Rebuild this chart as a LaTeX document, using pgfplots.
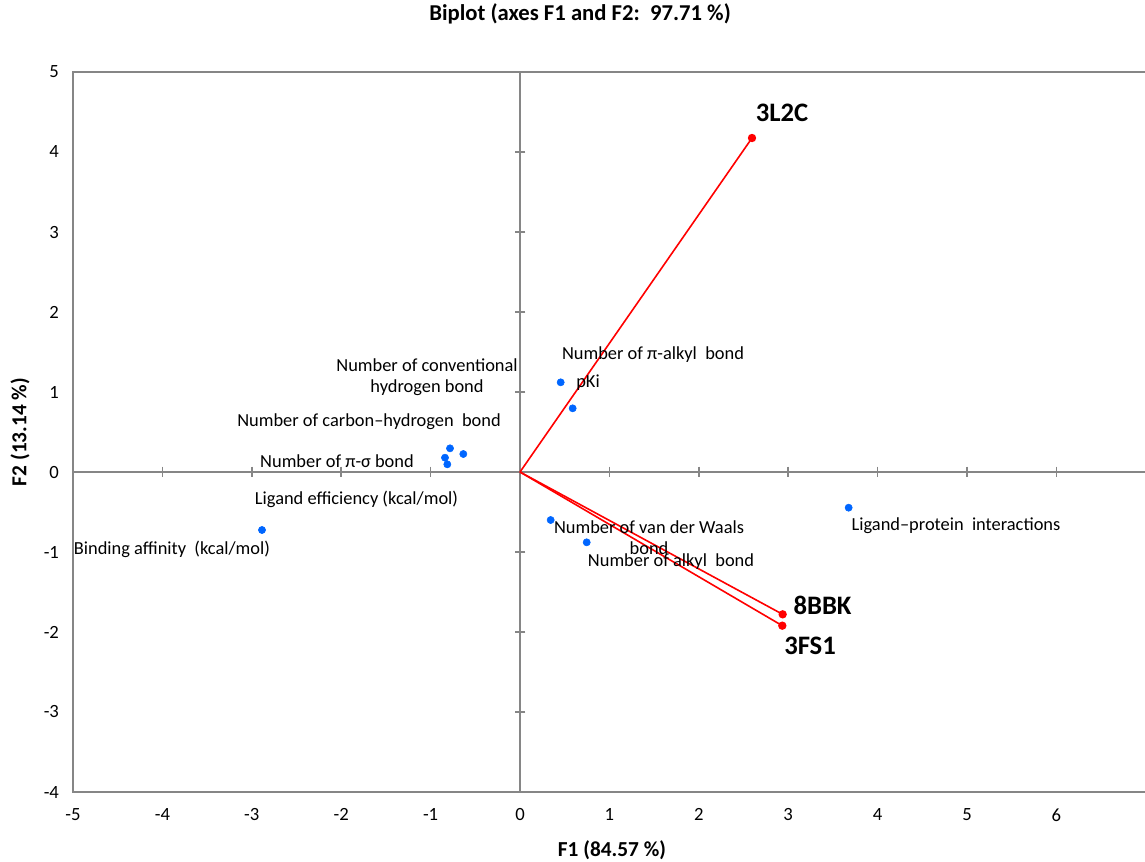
\documentclass[border=0pt]{standalone}
\usepackage{fontspec}
\setmainfont{Carlito}
\usepackage{pgfplots}
\pgfplotsset{compat=1.18}
\definecolor{axgray}{RGB}{134,134,134}
\definecolor{ptblue}{RGB}{0,102,255}
\begin{document}
\begin{tikzpicture}[
  lbl/.style={inner sep=0pt, font=\fontsize{13.8}{15.8}\selectfont},
  obs/.style={inner sep=0pt, font=\fontsize{20}{22}\selectfont\bfseries}]
\useasboundingbox (-54.75pt,-51.75pt) rectangle (804pt,594pt);
\begin{axis}[
  at={(0,0)}, anchor=south west,
  scale only axis,
  width=804.6pt, height=540pt,
  xmin=-5, xmax=7, ymin=-4, ymax=5,
  xtick={-5,-4,...,6}, ytick={-4,-3,...,5},
  major tick length=0pt,
  axis line style={draw=none},
  clip=false,
  /pgf/number format/assume math mode=true,
  tick label style={font=\fontsize{14}{16}\selectfont},
  xticklabel style={yshift=-9pt},
  yticklabel style={xshift=-7pt},
  title={Biplot (axes F1 and F2:\ \ 97.71 \%)},
  title style={font=\fontsize{17}{19}\selectfont\bfseries, at={(0.4726,1.0694)}, anchor=center},
  xlabel={F1 (84.57 \%)},
  xlabel style={font=\fontsize{16}{18}\selectfont\bfseries, at={(0.5024,-0.0806)}, anchor=center},
  ylabel={F2 (13.14 \%)},
  ylabel style={font=\fontsize{16}{18}\selectfont\bfseries, at={(-0.0494,0.5)}, anchor=center, rotate=0},
]
% frame (left, top, bottom)
\draw[axgray, line width=1.3pt] (rel axis cs:1,1) -- (rel axis cs:0,1) -- (rel axis cs:0,0) -- (rel axis cs:1,0);
% zero lines
\addplot[axgray, line width=1.3pt, forget plot] coordinates {(-5,0) (7,0)};
\addplot[axgray, line width=1.3pt, forget plot] coordinates {(0,-4) (0,5)};
\addplot[only marks, mark=|, mark size=4pt, mark options={axgray, line width=1.1pt}, forget plot]
  coordinates {(-5,0) (-4,0) (-3,0) (-2,0) (-1,0) (1,0) (2,0) (3,0) (4,0) (5,0) (6,0)};
\addplot[only marks, mark=-, mark size=4pt, mark options={axgray, line width=1.1pt}, forget plot]
  coordinates {(0,-4) (0,-3) (0,-2) (0,-1) (0,1) (0,2) (0,3) (0,4) (0,5)};
% variables (blue)
\addplot[only marks, mark=*, mark size=2.7pt, color=ptblue] coordinates {
  (-2.886,-0.725)
  (-0.783,0.296)
  (-0.839,0.179)
  (-0.813,0.096)
  (-0.634,0.225)
  (0.455,1.121)
  (0.589,0.796)
  (0.343,-0.600)
  (0.746,-0.879)
  (3.676,-0.446)
};
% observations (red vectors)
\addplot[red, line width=1.2pt, mark=*, mark size=2.5pt, mark repeat=2, mark phase=2] coordinates {(0,0) (2.595,4.175)};
\addplot[red, line width=1.2pt, mark=*, mark size=2.5pt, mark repeat=2, mark phase=2] coordinates {(0,0) (2.938,-1.779)};
\addplot[red, line width=1.2pt, mark=*, mark size=2.5pt, mark repeat=2, mark phase=2] coordinates {(0,0) (2.934,-1.921)};
% labels
\node[lbl, align=center] at (axis cs:-1.04,1.19) {Number of conventional\\hydrogen bond};
\node[lbl] at (axis cs:-1.689,0.625) {Number of carbon–hydrogen\ \ bond};
\node[lbl] at (axis cs:-2.047,0.1375) {Number of π-σ bond};
\node[lbl] at (axis cs:-1.829,-0.3375) {Ligand efficiency (kcal/mol)};
\node[lbl] at (axis cs:-3.893,-0.9625) {Binding affinity\ \ (kcal/mol)};
\node[lbl] at (axis cs:1.488,1.4625) {Number of π-alkyl\ \ bond};
\node[lbl] at (axis cs:0.761,1.1125) {pKi};
\node[lbl, align=center] at (axis cs:1.443,-0.82) {Number of van der Waals\\bond};
\node[lbl] at (axis cs:1.689,-1.125) {Number of alkyl\ \ bond};
\node[lbl] at (axis cs:4.877,-0.675) {Ligand–protein\ \ interactions};
\node[obs] at (axis cs:2.931,4.4875) {3L2C};
\node[obs] at (axis cs:3.384,-1.6625) {8BBK};
\node[obs] at (axis cs:3.244,-2.175) {3FS1};
\end{axis}
\end{tikzpicture}
\end{document}
